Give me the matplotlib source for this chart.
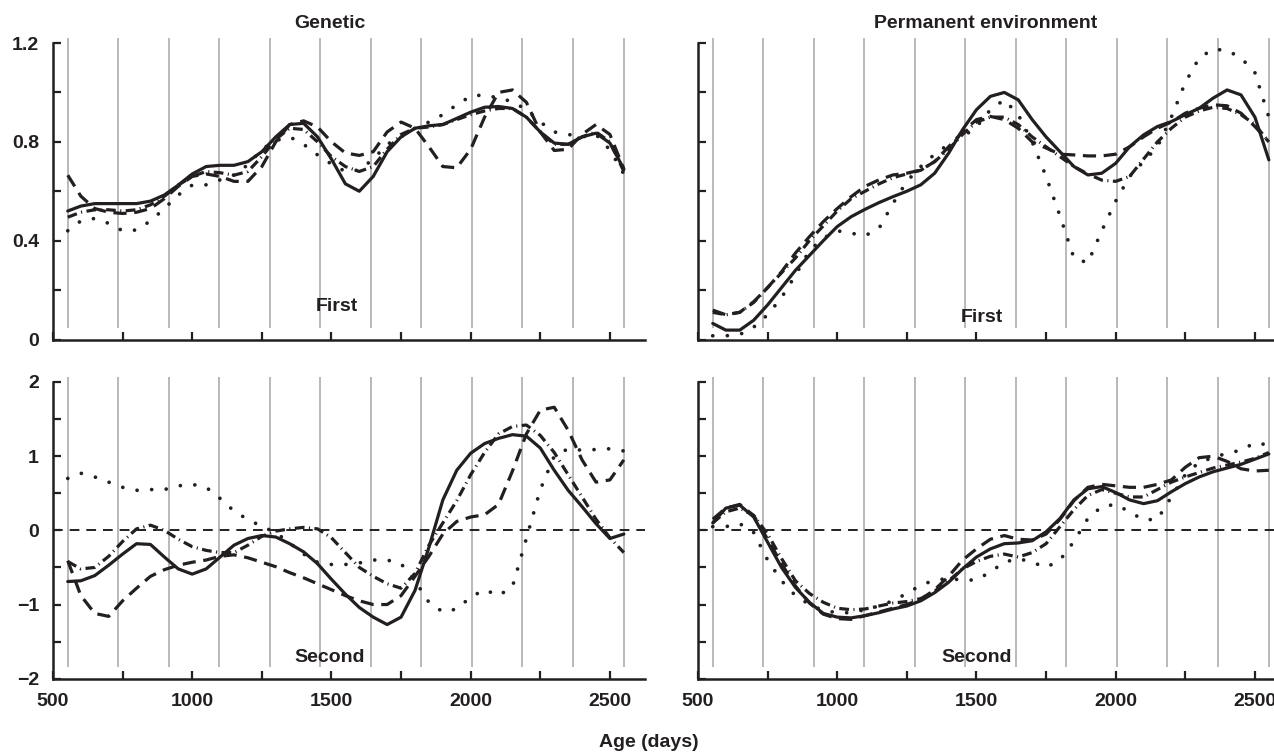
import matplotlib
matplotlib.use('Agg')
import matplotlib.pyplot as plt

# ---------------- data ----------------
AGES = [553, 600, 650, 700, 750, 800, 850, 900, 950, 1000,
        1050, 1100, 1150, 1200, 1250, 1300, 1350, 1400, 1450, 1500,
        1550, 1600, 1650, 1700, 1750, 1800, 1850, 1900, 1950, 2000,
        2050, 2100, 2150, 2200, 2250, 2300, 2350, 2400, 2450, 2500, 2550]

GRID_AGES = [553, 735, 916, 1097, 1279, 1460, 1642, 1823, 2005, 2186, 2368, 2550]

# Genetic - first
gen1_solid = [0.52, 0.54, 0.55, 0.55, 0.55, 0.55, 0.56, 0.585, 0.625, 0.67,
              0.70, 0.705, 0.705, 0.72, 0.76, 0.82, 0.87, 0.875, 0.82, 0.73,
              0.63, 0.60, 0.66, 0.76, 0.82, 0.855, 0.865, 0.87, 0.895, 0.92,
              0.94, 0.943, 0.935, 0.90, 0.84, 0.795, 0.79, 0.82, 0.835, 0.795, 0.69]
gen1_dash = [0.665, 0.58, 0.53, 0.515, 0.51, 0.515, 0.53, 0.57, 0.62, 0.66,
             0.67, 0.66, 0.64, 0.64, 0.70, 0.80, 0.87, 0.885, 0.86, 0.80,
             0.755, 0.745, 0.76, 0.84, 0.88, 0.855, 0.78, 0.70, 0.695, 0.77,
             0.90, 1.0, 1.01, 0.96, 0.84, 0.765, 0.77, 0.83, 0.87, 0.83, 0.69]
gen1_dashdot = [0.495, 0.515, 0.525, 0.525, 0.52, 0.525, 0.545, 0.58, 0.625, 0.66,
                0.68, 0.675, 0.665, 0.68, 0.74, 0.81, 0.855, 0.85, 0.80, 0.74,
                0.70, 0.68, 0.70, 0.77, 0.83, 0.855, 0.86, 0.87, 0.89, 0.91,
                0.925, 0.935, 0.935, 0.90, 0.84, 0.79, 0.79, 0.82, 0.84, 0.80, 0.68]
gen1_dot = [0.44, 0.48, 0.49, 0.47, 0.44, 0.443, 0.48, 0.53, 0.585, 0.625,
            0.626, 0.646, 0.666, 0.707, 0.77, 0.805, 0.82, 0.79, 0.747, 0.71,
            0.68, 0.686, 0.73, 0.79, 0.82, 0.855, 0.88, 0.91, 0.95, 0.985,
            0.99, 0.977, 0.963, 0.93, 0.88, 0.84, 0.83, 0.82, 0.83, 0.767, 0.67]

# Permanent environment - first
pe1_solid = [0.065, 0.038, 0.038, 0.078, 0.14, 0.21, 0.28, 0.34, 0.40, 0.457,
             0.497, 0.527, 0.554, 0.578, 0.60, 0.626, 0.673, 0.754, 0.849, 0.93,
             0.984, 1.0, 0.97, 0.89, 0.82, 0.76, 0.70, 0.666, 0.673, 0.713,
             0.78, 0.828, 0.862, 0.882, 0.91, 0.936, 0.977, 1.01, 0.99, 0.90, 0.727]
pe1_dash = [0.119, 0.10, 0.11, 0.153, 0.21, 0.274, 0.35, 0.416, 0.477, 0.53,
            0.578, 0.62, 0.646, 0.666, 0.673, 0.686, 0.72, 0.78, 0.84, 0.89,
            0.903, 0.89, 0.855, 0.80, 0.775, 0.75, 0.747, 0.743, 0.743, 0.75,
            0.78, 0.82, 0.855, 0.88, 0.916, 0.936, 0.95, 0.946, 0.916, 0.862, 0.80]
pe1_dashdot = [0.11, 0.10, 0.11, 0.15, 0.21, 0.27, 0.33, 0.40, 0.46, 0.52,
               0.57, 0.60, 0.63, 0.655, 0.67, 0.685, 0.72, 0.77, 0.83, 0.88,
               0.90, 0.90, 0.87, 0.82, 0.78, 0.74, 0.70, 0.67, 0.645, 0.64,
               0.66, 0.73, 0.80, 0.855, 0.90, 0.925, 0.94, 0.935, 0.91, 0.87, 0.80]
pe1_dot = [0.015, 0.015, 0.02, 0.05, 0.10, 0.17, 0.26, 0.36, 0.41, 0.44,
           0.43, 0.42, 0.45, 0.55, 0.64, 0.70, 0.75, 0.79, 0.82, 0.86,
           0.93, 0.97, 0.91, 0.80, 0.66, 0.50, 0.33, 0.31, 0.44, 0.56,
           0.66, 0.72, 0.78, 0.90, 1.04, 1.14, 1.175, 1.17, 1.14, 1.08, 0.90]

# Genetic - second
gen2_solid = [-0.69, -0.68, -0.61, -0.47, -0.32, -0.18, -0.19, -0.36, -0.52, -0.59,
              -0.52, -0.36, -0.20, -0.11, -0.07, -0.09, -0.18, -0.29, -0.45, -0.66,
              -0.86, -1.04, -1.17, -1.27, -1.17, -0.81, -0.23, 0.41, 0.81, 1.04,
              1.17, 1.24, 1.29, 1.27, 1.11, 0.81, 0.54, 0.32, 0.09, -0.11, -0.05]
gen2_dash = [-0.41, -0.88, -1.12, -1.16, -0.95, -0.78, -0.62, -0.53, -0.47, -0.43,
             -0.40, -0.35, -0.33, -0.37, -0.43, -0.49, -0.57, -0.64, -0.72, -0.80,
             -0.88, -0.95, -1.0, -1.0, -0.88, -0.62, -0.35, -0.05, 0.12, 0.18,
             0.21, 0.35, 0.80, 1.30, 1.62, 1.66, 1.35, 0.95, 0.65, 0.68, 0.95]
gen2_dashdot = [-0.42, -0.52, -0.50, -0.35, -0.15, 0.02, 0.07, 0.0, -0.12, -0.22,
                -0.27, -0.30, -0.30, -0.20, -0.08, -0.01, 0.02, 0.04, 0.02, -0.10,
                -0.30, -0.50, -0.62, -0.72, -0.78, -0.58, -0.20, 0.10, 0.40, 0.75,
                1.05, 1.30, 1.40, 1.42, 1.28, 1.05, 0.75, 0.45, 0.15, -0.10, -0.30]
gen2_dot = [0.70, 0.77, 0.72, 0.65, 0.58, 0.54, 0.55, 0.55, 0.60, 0.62,
            0.58, 0.43, 0.26, 0.145, 0.054, -0.03, -0.17, -0.32, -0.43, -0.46,
            -0.46, -0.44, -0.40, -0.40, -0.45, -0.68, -0.97, -1.10, -1.06, -0.90,
            -0.80, -0.88, -0.76, -0.11, 0.55, 1.0, 1.10, 1.08, 1.09, 1.10, 1.07]

# Permanent environment - second
pe2_solid = [0.10, 0.30, 0.34, 0.18, -0.16, -0.50, -0.77, -0.97, -1.12, -1.17,
             -1.18, -1.15, -1.11, -1.06, -1.02, -0.95, -0.84, -0.70, -0.52, -0.36,
             -0.25, -0.18, -0.17, -0.14, -0.02, 0.16, 0.41, 0.56, 0.59, 0.51,
             0.41, 0.36, 0.40, 0.52, 0.63, 0.72, 0.79, 0.84, 0.89, 0.96, 1.03]
pe2_dash = [0.15, 0.30, 0.35, 0.20, -0.12, -0.45, -0.75, -0.98, -1.13, -1.19,
            -1.20, -1.15, -1.10, -1.05, -1.0, -0.93, -0.80, -0.62, -0.40, -0.25,
            -0.12, -0.07, -0.12, -0.13, -0.05, 0.15, 0.40, 0.58, 0.62, 0.60,
            0.58, 0.58, 0.62, 0.68, 0.85, 0.98, 1.0, 0.93, 0.83, 0.80, 0.81]
pe2_dashdot = [0.10, 0.25, 0.30, 0.20, -0.05, -0.38, -0.68, -0.85, -0.97, -1.05,
               -1.07, -1.06, -1.02, -0.98, -0.96, -0.92, -0.82, -0.68, -0.52, -0.42,
               -0.35, -0.32, -0.36, -0.30, -0.18, 0.05, 0.28, 0.47, 0.55, 0.50,
               0.45, 0.45, 0.55, 0.65, 0.72, 0.78, 0.84, 0.88, 0.92, 0.97, 1.05]
pe2_dot = [0.05, 0.05, 0.09, -0.03, -0.40, -0.68, -0.88, -1.0, -1.08, -1.11,
           -1.11, -1.07, -1.02, -0.95, -0.85, -0.74, -0.67, -0.65, -0.67, -0.67,
           -0.56, -0.43, -0.38, -0.43, -0.50, -0.40, -0.15, 0.16, 0.32, 0.35,
           0.25, 0.14, 0.15, 0.45, 0.75, 0.92, 0.98, 1.04, 1.08, 1.18, 1.15]

TITLES = ["Genetic", "Permanent environment"]
ROW_LABELS = ["First", "Second"]
X_LABEL = "Age (days)"

TOP_YTICKS = [0, 0.2, 0.4, 0.6, 0.8, 1.0, 1.2]
TOP_YTICKLABELS = ["0", "", "0.4", "", "0.8", "", "1.2"]
BOT_YTICKS = [-2, -1.5, -1, -0.5, 0, 0.5, 1, 1.5, 2]
BOT_YTICKLABELS = ["\u22122", "", "\u22121", "", "0", "", "1", "", "2"]
XTICKS = [500, 750, 1000, 1250, 1500, 1750, 2000, 2250, 2500]
XTICKLABELS = ["500", "", "1000", "", "1500", "", "2000", "", "2500"]

# ---------------- style ----------------
plt.rcParams['font.family'] = ['Liberation Sans', 'DejaVu Sans']
plt.rcParams['font.weight'] = 'bold'
plt.rcParams['lines.scale_dashes'] = False

INK = '#231f20'
GRID = '#b3b3b3'
FS = 14
LW = 2.3

STYLES = {
    'solid': dict(linestyle='-'),
    'dash': dict(dashes=(9.5, 5.5)),
    'dashdot': dict(dashes=(7.0, 3.2, 0.8, 3.2)),
    'dot': dict(dashes=(0.01, 10.5), dash_capstyle='round'),
}

fig = plt.figure(figsize=(12.74, 7.53), dpi=100)
W, H = 1274.0, 753.0

def px_axes(left, right, top, bottom):
    return fig.add_axes([left / W, 1 - bottom / H, (right - left) / W, (bottom - top) / H])

ax_tl = px_axes(53, 645, 43, 339.5)
ax_tr = px_axes(698, 1290, 43, 339.5)
ax_bl = px_axes(53, 645, 382, 678.7)
ax_br = px_axes(698, 1290, 382, 678.7)

panels = [
    (ax_tl, [gen1_solid, gen1_dash, gen1_dashdot, gen1_dot], 'top', True, False),
    (ax_tr, [pe1_solid, pe1_dash, pe1_dashdot, pe1_dot], 'top', False, False),
    (ax_bl, [gen2_solid, gen2_dash, gen2_dashdot, gen2_dot], 'bot', True, True),
    (ax_br, [pe2_solid, pe2_dash, pe2_dashdot, pe2_dot], 'bot', False, True),
]

for ax, series, row, ylab, xlab in panels:
    ax.set_xlim(500, 2626)
    if row == 'top':
        ax.set_ylim(0, 1.2)
        ax.vlines(GRID_AGES, 0.048, 1.221, colors=GRID, linewidth=1.3, clip_on=False, zorder=1)
        ax.set_yticks(TOP_YTICKS)
        ax.set_yticklabels(TOP_YTICKLABELS if ylab else [""] * len(TOP_YTICKS))
    else:
        ax.set_ylim(-2, 2)
        ax.vlines(GRID_AGES, -1.84, 2.07, colors=GRID, linewidth=1.3, clip_on=False, zorder=1)
        ax.axhline(0, color=INK, linewidth=1.4, dashes=(7.0, 5.0), zorder=2)
        ax.set_yticks(BOT_YTICKS)
        ax.set_yticklabels(BOT_YTICKLABELS if ylab else [""] * len(BOT_YTICKS))
    ax.set_xticks(XTICKS)
    ax.set_xticklabels(XTICKLABELS if xlab else [""] * len(XTICKS))

    for vals, key in zip(series, ['solid', 'dash', 'dashdot', 'dot']):
        lw = LW + (0.4 if key == 'dot' else 0)
        ax.plot(AGES, vals, color=INK, linewidth=lw, solid_capstyle='round',
                zorder=3, clip_on=False, **STYLES[key])

    for s in ['top', 'right']:
        ax.spines[s].set_visible(False)
    for s in ['left', 'bottom']:
        ax.spines[s].set_linewidth(1.8)
        ax.spines[s].set_color(INK)
    ax.tick_params(direction='in', length=6, width=1.6, color=INK,
                   labelsize=FS, labelcolor=INK, pad=10)
    ax.patch.set_alpha(0)

# row labels inside panels
ax_tl.text(1520, 0.117, ROW_LABELS[0], ha='center', va='baseline', fontsize=FS, color=INK, fontweight='bold')
ax_tr.text(1518, 0.071, ROW_LABELS[0], ha='center', va='baseline', fontsize=FS, color=INK, fontweight='bold')
ax_bl.text(1495, -1.77, ROW_LABELS[1], ha='center', va='baseline', fontsize=FS, color=INK, fontweight='bold')
ax_br.text(1499, -1.77, ROW_LABELS[1], ha='center', va='baseline', fontsize=FS, color=INK, fontweight='bold')

# titles
fig.text(330 / W, 1 - 28 / H, TITLES[0], ha='center', va='baseline', fontsize=FS, color=INK, fontweight='bold')
fig.text(986 / W, 1 - 28 / H, TITLES[1], ha='center', va='baseline', fontsize=FS, color=INK, fontweight='bold')
fig.text(649 / W, 1 - 747 / H, X_LABEL, ha='center', va='baseline', fontsize=FS, color=INK, fontweight='bold')

fig.savefig('out.png', dpi=100)
